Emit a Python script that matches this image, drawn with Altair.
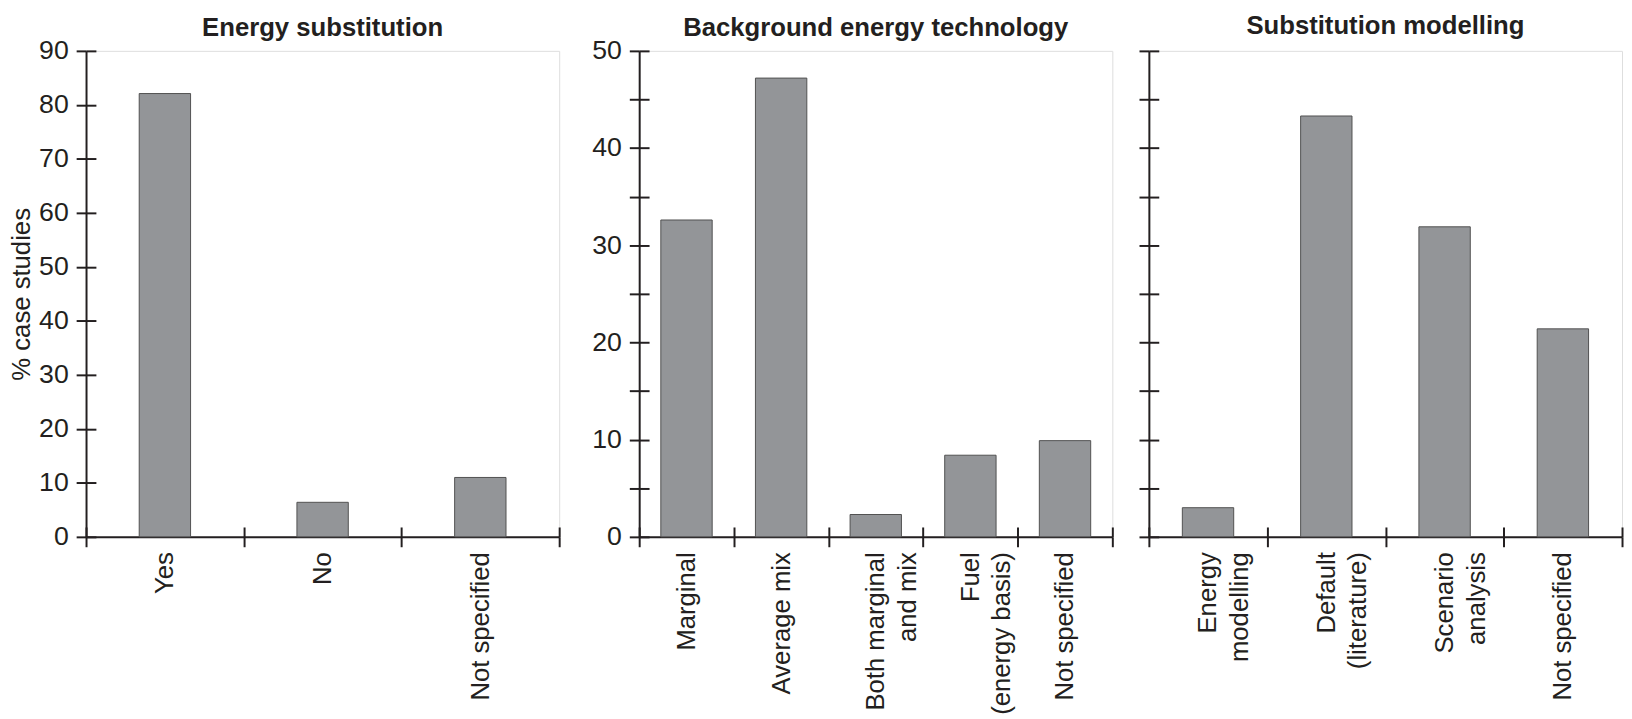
import altair as alt
import pandas as pd

# ---- data ----
p1_title = "Energy substitution"
p1_cats = ["Yes", "No", "Not specified"]
p1_vals = [82.1, 6.4, 11.0]

p2_title = "Background energy technology"
p2_cats = ["Marginal", "Average mix", "Both marginal\nand mix", "Fuel\n(energy basis)", "Not specified"]
p2_vals = [32.6, 47.2, 2.3, 8.4, 9.9]

p3_title = "Substitution modelling"
p3_cats = ["Energy\nmodelling", "Default\n(literature)", "Scenario\nanalysis", "Not specified"]
p3_vals = [3.0, 43.3, 31.9, 21.4]

p1_ticks = [0, 10, 20, 30, 40, 50, 60, 70, 80, 90]
p23_ticks = [0, 5, 10, 15, 20, 25, 30, 35, 40, 45, 50]

y_title = "% case studies"

INK = "#231f20"
FONT = "Liberation Sans"
W, H = 479, 492


def panel(cats, vals, title, ymax, yticks, label_mode, title_offset, ytitle=None):
    df = pd.DataFrame({"cat": cats, "val": vals})
    xs = alt.Scale(paddingInner=0, paddingOuter=0)
    ys = alt.Scale(domain=[0, ymax], nice=False, zero=True)

    y_kwargs = dict(orient="left", values=yticks, tickSize=10, tickWidth=2,
                    tickColor=INK, domainColor=INK, domainWidth=2,
                    labelFont=FONT, labelFontSize=27, labelColor=INK,
                    labelPadding=8, grid=False)
    if label_mode == "none":
        y_kwargs["labels"] = False
    elif label_mode == "tens":
        y_kwargs["labelExpr"] = "datum.value % 10 == 0 ? datum.label : ''"
    if ytitle:
        y_kwargs.update(title=ytitle, titleFont=FONT, titleFontSize=26,
                        titleFontWeight="normal", titleColor=INK, titlePadding=4)
    else:
        y_kwargs["title"] = None

    x_axis = alt.Axis(orient="bottom", tickBand="extent", labelAngle=-90,
                      labelExpr="split(datum.label, '\\n')",
                      labelFont=FONT, labelFontSize=26, labelColor=INK,
                      labelLineHeight=32, labelPadding=5, tickSize=10,
                      tickWidth=2, tickColor=INK, domainColor=INK,
                      domainWidth=2, title=None, grid=False)

    base = alt.Chart(df)
    bars = base.mark_bar(width=52, fill="#939598", stroke="#505050",
                         strokeWidth=1).encode(
        x=alt.X("cat:N", sort=cats, scale=xs, axis=x_axis),
        y=alt.Y("val:Q", scale=ys, axis=alt.Axis(**y_kwargs)),
    )
    inner = base.mark_bar(width=52, opacity=0).encode(
        x=alt.X("cat:N", sort=cats, scale=xs,
                axis=alt.Axis(orient="bottom", tickBand="extent", offset=-10,
                              labels=False, domain=False, title=None,
                              tickSize=10, tickWidth=2, tickColor=INK,
                              grid=False)),
        y=alt.Y("val:Q", scale=ys,
                axis=alt.Axis(orient="left", values=yticks, offset=-10,
                              labels=False, domain=False, title=None,
                              tickSize=10, tickWidth=2, tickColor=INK,
                              grid=False)),
    )
    return alt.layer(bars, inner).resolve_axis(
        x="independent", y="independent"
    ).properties(
        width=W, height=H,
        title=alt.TitleParams(title, font=FONT, fontSize=26, fontWeight="bold",
                              color=INK, anchor="middle", frame="group",
                              offset=title_offset),
    )


c1 = panel(p1_cats, p1_vals, p1_title, 90, p1_ticks, "all", -4, y_title)
c2 = panel(p2_cats, p2_vals, p2_title, 50, p23_ticks, "tens", -4)
c3 = panel(p3_cats, p3_vals, p3_title, 50, p23_ticks, "none", 11.5)

chart = alt.hconcat(
    alt.hconcat(c1, c2, spacing=30), c3, spacing=21
).properties(
    padding={"left": 0, "top": 0, "right": 0, "bottom": 0}
).configure_view(
    stroke=INK, strokeWidth=2
).configure(background="white")

chart.save("out.html", embed_options={"renderer": "svg", "actions": False})
